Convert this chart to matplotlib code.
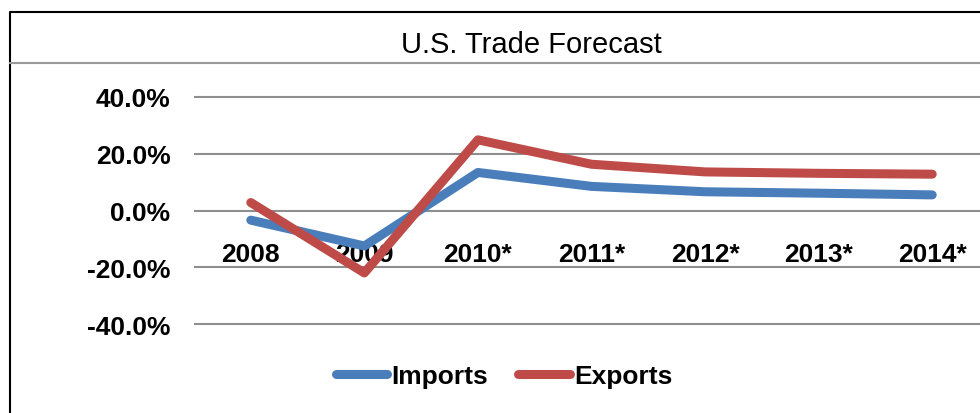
import matplotlib
matplotlib.use("Agg")
import matplotlib.pyplot as plt
from matplotlib.lines import Line2D
from matplotlib.ticker import FuncFormatter

# ------------------------
# Data
# ------------------------
years = ["2008", "2009", "2010*", "2011*", "2012*", "2013*", "2014*"]
imports = [-3.4, -12.5, 13.4, 8.5, 6.6, 6.1, 5.5]
exports = [2.8, -22.0, 24.9, 16.3, 13.6, 13.1, 12.8]
y_ticks = [-40, -20, 0, 20, 40]

BLUE = "#4A7EBB"
RED = "#BE4B48"
GRID = "#8E8E8E"

plt.rcParams["font.family"] = ["Liberation Sans", "DejaVu Sans"]

W, H = 980, 414
fig = plt.figure(figsize=(W / 100, H / 100), dpi=100)


def px(x0, y0, x1, y1):
    # pixel box (top-left origin) -> figure fraction rect
    return [x0 / W, 1 - y1 / H, (x1 - x0) / W, (y1 - y0) / H]


# plot area: 40% at y=98, -40% at y=325, categories 194..989 px
ax = fig.add_axes(px(194, 95.15, 989, 327.85))
xs = list(range(len(years)))

ax.plot(xs, imports, color=BLUE, lw=6.5, solid_capstyle="round",
        solid_joinstyle="round", label="Imports", zorder=2)
ax.plot(xs, exports, color=RED, lw=6.5, solid_capstyle="round",
        solid_joinstyle="round", label="Exports", zorder=2)

ax.set_xlim(-0.5, len(years) - 0.5)
ax.set_ylim(-41, 41)
ax.set_yticks(y_ticks)
ax.yaxis.set_major_formatter(FuncFormatter(lambda v, p: f"{v:.1f}%"))
ax.set_xticks(xs)
ax.set_xticklabels(years)

ax.grid(axis="y", color=GRID, lw=1.5, zorder=0)
ax.set_axisbelow(True)

for s in ["top", "right", "left"]:
    ax.spines[s].set_visible(False)
# category labels sit next to the 0% line
ax.spines["bottom"].set_position(("data", 0))
ax.spines["bottom"].set_visible(False)

ax.tick_params(axis="y", length=0, pad=17, labelsize=19)
ax.tick_params(axis="x", length=0, pad=23, labelsize=19)
for lbl in ax.get_xticklabels() + ax.get_yticklabels():
    lbl.set_fontweight("bold")

# title
fig.text(531 / W, 1 - 45 / H, "U.S. Trade Forecast", fontsize=21,
         ha="center", va="center")

# chart frame and title separator
fig.add_artist(Line2D([9.5 / W, 9.5 / W, 1], [0, 1 - 12.5 / H, 1 - 12.5 / H],
                      color="black", lw=1.5))
fig.add_artist(Line2D([9.5 / W, 1], [1 - 64 / H, 1 - 64 / H],
                      color="#9A9A9A", lw=1.5))

leg = fig.legend(loc="center", bbox_to_anchor=(504 / W, 1 - 377 / H),
                 ncol=2, frameon=False, handlelength=1.95, handletextpad=0.15,
                 columnspacing=1.15, prop={"size": 19, "weight": "bold"})

fig.savefig("out.png", dpi=100)
